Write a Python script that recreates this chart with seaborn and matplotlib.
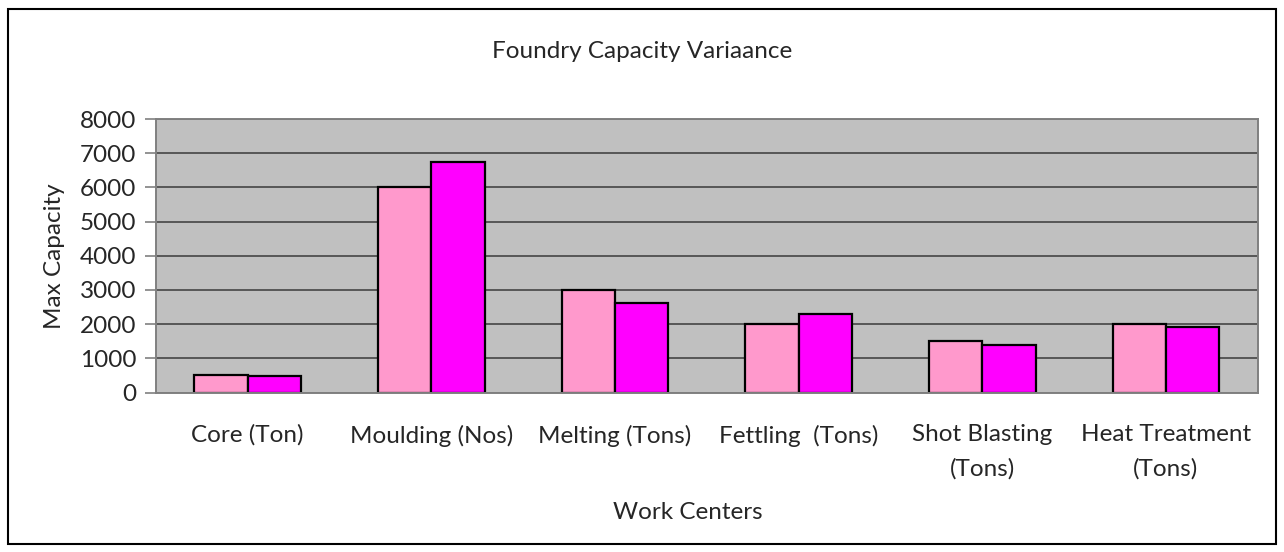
import pandas as pd
import matplotlib.pyplot as plt
from matplotlib.patches import Rectangle
import seaborn as sns

# Values
work_centers = ['Core (Ton)', 'Moulding (Nos)', 'Melting (Tons)', 'Fettling  (Tons)',
                'Shot Blasting\n(Tons)', 'Heat Treatment\n(Tons)']
series_a = [520, 6000, 3000, 2000, 1500, 2000]
series_b = [470, 6750, 2630, 2290, 1400, 1930]
series_names = ['Series 1', 'Series 2']
y_ticks = [0, 1000, 2000, 3000, 4000, 5000, 6000, 7000, 8000]

df = pd.DataFrame({
    'center': work_centers * 2,
    'value': series_a + series_b,
    'series': [series_names[0]] * len(work_centers) + [series_names[1]] * len(work_centers),
})

sns.set_style('white')
plt.rcParams['font.family'] = ['Lato', 'DejaVu Sans']
fs = 17.5

fig = plt.figure(figsize=(12.84, 5.52), dpi=100)
ax = fig.add_axes([0.1213, 0.2889, 0.8583, 0.4955])
ax.set_facecolor('#C0C0C0')

sns.barplot(data=df, x='center', y='value', hue='series',
            palette=['#FF99CC', '#FF00FF'], saturation=1, width=0.58,
            edgecolor='black', linewidth=1.6, legend=False, ax=ax)

ax.set_ylim(0, 8000)
ax.set_xlim(-0.5, len(work_centers) - 0.5)
ax.set_yticks(y_ticks)
ax.yaxis.grid(True, color='#3a3a3a', linewidth=1.1)
ax.set_axisbelow(True)

for s in ax.spines.values():
    s.set_visible(True)
    s.set_color('#808080')
    s.set_linewidth(1.4)

# category boundary ticks
ax.set_xticks([i - 0.5 for i in range(len(work_centers) + 1)], minor=True)
ax.tick_params(axis='x', which='minor', length=7, width=1.2, color='#808080', direction='out')
ax.tick_params(axis='x', which='major', length=4, width=1.2, color='#808080',
               direction='out', pad=19, labelsize=fs)
ax.tick_params(axis='y', length=8, width=1.2, color='#808080', direction='out',
               pad=6, labelsize=fs, left=True)
for lbl in ax.get_xticklabels():
    lbl.set_linespacing(1.7)

ax.set_xlabel('Work Centers', fontsize=fs)
ax.xaxis.set_label_coords(0.483, -0.40)
ax.set_ylabel('Max Capacity', fontsize=fs)
ax.yaxis.set_label_coords(-0.082, 0.5)
ax.set_title('Foundry Capacity Variaance', fontsize=fs, pad=44, x=0.441)

fig.patches.append(Rectangle((0.0062, 0.0145), 0.9875, 0.969, transform=fig.transFigure,
                             fill=False, edgecolor='black', linewidth=1.5))

fig.savefig('out.png', dpi=100)
